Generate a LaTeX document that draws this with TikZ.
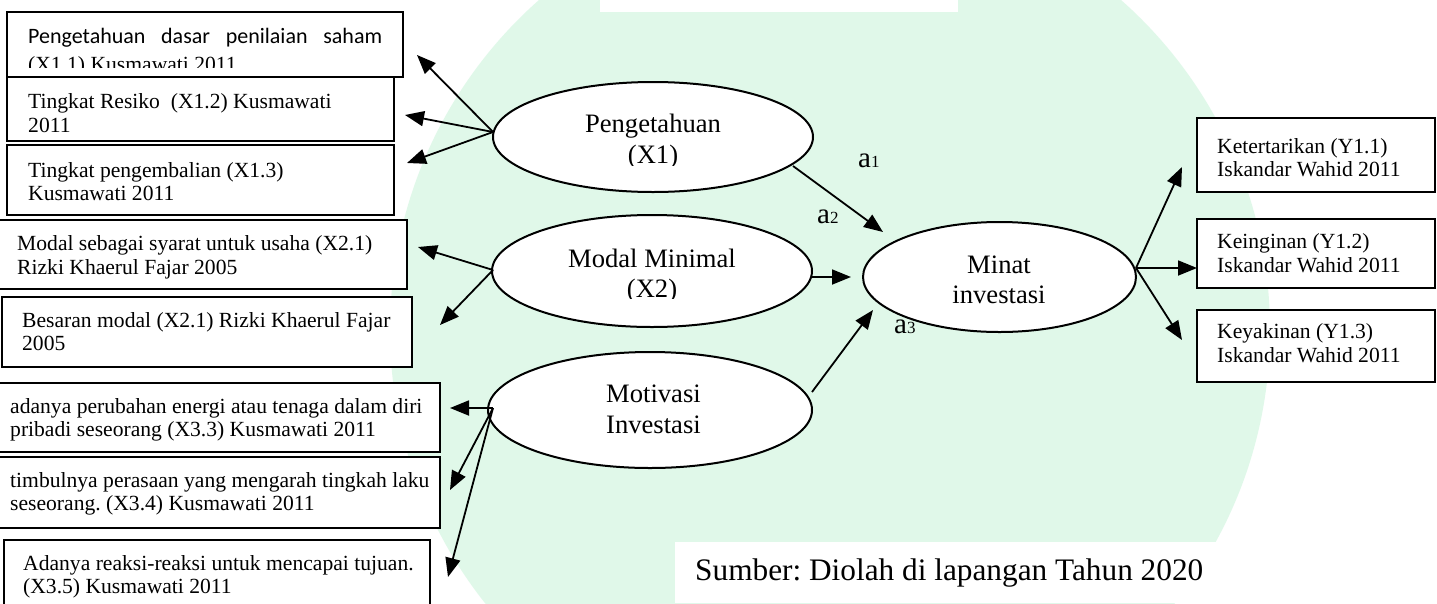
\documentclass[tikz,border=0pt]{standalone}
\usepackage{fontspec}
\setmainfont{Liberation Serif}
\newfontfamily\carlito{Carlito}
\usetikzlibrary{arrows.meta,shapes.geometric}
\definecolor{mint}{RGB}{208,245,222}
\frenchspacing
\tikzset{
  box/.style={draw=black,line width=2.4pt,fill=white},
  boxtxt/.style={anchor=base west,inner sep=0pt,font=\fontsize{21.6}{24}\selectfont},
  elltxt/.style={anchor=base,inner sep=0pt,font=\fontsize{26.6}{30}\selectfont},
  oval/.style={ellipse,draw=black,line width=2pt,fill=white,inner sep=0pt},
  conn/.style={line width=1.8pt,-{Triangle[length=19pt,width=15pt]}},
  lbl/.style={anchor=base west,inner sep=0pt,font=\fontsize{29}{30}\selectfont},
}
\newcommand{\sub}[1]{{\fontsize{17}{17}\selectfont #1}}
\begin{document}
\begin{tikzpicture}[x=1pt,y=-1pt]
\useasboundingbox (0,0) rectangle (1437,603);
% background watermark tint
\fill[white] (0,0) rectangle (1437,603);
\fill[mint,opacity=0.65] (830,330) circle (440);
\fill[white] (600,0) rectangle (958,12);

% left boxes (Pengetahuan)
\draw[box] (7,12) rectangle (403,77);
\node[boxtxt,font=\carlito\fontsize{22}{24}\selectfont] (t1a) at (28,43) {\makebox[354pt][s]{Pengetahuan\hfill dasar\hfill penilaian\hfill saham}};
\begin{scope}
\clip (0,0) rectangle (500,67);
\node[boxtxt] (t1b) at (28,71) {(X1.1) Kusmawati 2011};
\end{scope}
\draw[box] (7,77) rectangle (394,141);
\node[boxtxt] (t2a) at (28,108) {Tingkat Resiko\ \ (X1.2) Kusmawati};
\node[boxtxt] (t2b) at (28,132) {2011};
\draw[box] (7,145) rectangle (394,215);
\node[boxtxt] (t3a) at (28,177) {Tingkat pengembalian (X1.3)};
\node[boxtxt] (t3b) at (28,200) {Kusmawati 2011};

% Modal boxes
\draw[box] (-2,220) rectangle (407,289);
\node[boxtxt] (t4a) at (17,250) {Modal sebagai syarat untuk usaha (X2.1)};
\node[boxtxt] (t4b) at (17,274) {Rizki Khaerul Fajar 2005};
\draw[box] (2,297) rectangle (412,367);
\node[boxtxt] (t5a) at (22,327) {Besaran modal (X2.1) Rizki Khaerul Fajar};
\node[boxtxt] (t5b) at (22,350) {2005};

% Motivasi boxes
\draw[box] (-2,383) rectangle (440,452);
\node[boxtxt] (t6a) at (10,413) {adanya perubahan energi atau tenaga dalam diri};
\node[boxtxt] (t6b) at (10,436) {pribadi seseorang (X3.3) Kusmawati 2011};
\draw[box] (-2,457) rectangle (440,528);
\node[boxtxt] (t7a) at (10,487) {timbulnya perasaan yang mengarah tingkah laku};
\node[boxtxt] (t7b) at (10,510) {seseorang. (X3.4) Kusmawati 2011};
\draw[box] (4,540) rectangle (430,612);
\node[boxtxt] (t8a) at (23,570) {Adanya reaksi-reaksi untuk mencapai tujuan.};
\node[boxtxt] (t8b) at (23,593) {(X3.5) Kusmawati 2011};

% right boxes
\draw[box] (1197,118) rectangle (1435,192);
\node[boxtxt] (y1a) at (1217,153) {Ketertarikan (Y1.1)};
\node[boxtxt] (y1b) at (1217,176) {Iskandar Wahid 2011};
\draw[box] (1197,219) rectangle (1435,288);
\node[boxtxt] (y2a) at (1217,248) {Keinginan (Y1.2)};
\node[boxtxt] (y2b) at (1217,272) {Iskandar Wahid 2011};
\draw[box] (1197,310) rectangle (1435,382);
\node[boxtxt] (y3a) at (1217,338) {Keyakinan (Y1.3)};
\node[boxtxt] (y3b) at (1217,362) {Iskandar Wahid 2011};

% ellipses
\node[oval,minimum width=320pt,minimum height=110pt] (peng) at (653,137) {};
\node[elltxt] (pengA) at (653,132) {Pengetahuan};
\begin{scope}
\clip (400,0) rectangle (900,165);
\node[elltxt] (pengB) at (653,163) {(X1)};
\end{scope}
\node[oval,minimum width=320pt,minimum height=112pt] (modal) at (652,271) {};
\node[elltxt] (modalA) at (652,267) {Modal Minimal};
\begin{scope}
\clip (400,200) rectangle (900,298);
\node[elltxt] (modalB) at (652,297) {(X2)};
\end{scope}
\node[oval,minimum width=324pt,minimum height=116pt] (motiv) at (650,410) {};
\node[elltxt,anchor=base west] (motivA) at (606,402) {Motivasi};
\node[elltxt,anchor=base west] (motivB) at (606,433) {Investasi};
\node[oval,minimum width=273pt,minimum height=110pt] (minat) at (999.5,277) {};
\node[elltxt] (minatA) at (999,273) {Minat};
\node[elltxt] (minatB) at (999,303) {investasi};

% labels
\node[lbl] (a1) at (858,167) {a\sub{1}};
\node[lbl] (a2) at (817,223) {a\sub{2}};
\node[lbl] (a3) at (894,333) {a\sub{3}};

% connector coordinates
\coordinate (P0) at (493,132);
\coordinate (P1) at (417,55);
\coordinate (P2) at (405,115);
\coordinate (P3) at (407,163);
\coordinate (M0) at (493,270);
\coordinate (M1) at (418,247);
\coordinate (M2) at (440,325);
\coordinate (V0) at (493,408);
\coordinate (V1) at (450,408);
\coordinate (V2) at (450,490);
\coordinate (V3) at (448,577);
\coordinate (N0) at (1136,268);
\coordinate (N1) at (1182,167);
\coordinate (N2) at (1197,268);
\coordinate (N3) at (1182,340);
\coordinate (PA) at (793,166);
\coordinate (PB) at (883,232);
\coordinate (MA) at (812,277);
\coordinate (MB) at (851,277);
\coordinate (VA) at (812,392);
\coordinate (VB) at (873,310);

\draw[conn] (P0) -- (P1);
\draw[conn] (P0) -- (P2);
\draw[conn] (P0) -- (P3);
\draw[conn] (M0) -- (M1);
\draw[conn] (M0) -- (M2);
\draw[conn] (V0) -- (V1);
\draw[conn] (V0) -- (V2);
\draw[conn] (V0) -- (V3);
\draw[conn] (N0) -- (N1);
\draw[conn] (N0) -- (N2);
\draw[conn] (N0) -- (N3);
\draw[conn] (PA) -- (PB);
\draw[conn] (MA) -- (MB);
\draw[conn] (VA) -- (VB);

% source note
\fill[white] (675,542) rectangle (1243,603);
\node[anchor=base west,inner sep=0pt,font=\fontsize{31.3}{34}\selectfont] (src) at (695,580) {Sumber: Diolah di lapangan Tahun 2020};
\end{tikzpicture}
\end{document}
